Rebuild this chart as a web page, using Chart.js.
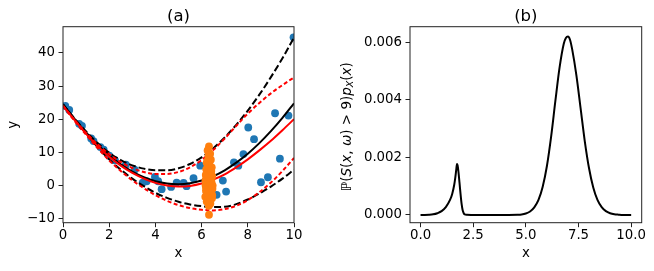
<!DOCTYPE html>
<html><head><meta charset="utf-8">
<script src="https://cdn.jsdelivr.net/npm/chart.js@4.4.1/dist/chart.umd.min.js"></script>
<style>
html,body{margin:0;padding:0;background:#fff;width:654px;height:271px;overflow:hidden}
#wrap{position:relative;width:654px;height:271px}
canvas{position:absolute;top:0}
#ca{left:0}
#cb{left:327px}
</style></head><body>
<div id="wrap"><canvas id="ca" width="327" height="271"></canvas><canvas id="cb" width="327" height="271"></canvas></div>
<script>
// ---------- Panel (a) data ----------
const curveX    = [0,0.5,1,1.5,2,2.5,3,3.5,4,4.5,5,5.5,6,6.5,7,7.5,8,8.5,9,9.5,10];
const trueMean  = [24.5,20.1,16.0,12.3,9.1,6.4,4.2,2.5,1.3,0.6,0.4,0.7,1.5,2.8,4.6,6.9,9.6,12.8,16.4,20.4,24.8];
const trueUpper = [24.5,20.2,16.3,12.8,9.9,7.7,6.1,5.1,4.6,4.6,5.2,6.5,8.5,11.2,14.5,18.3,22.6,27.4,32.7,38.4,44.6];
const trueLower = [24.5,19.9,15.7,11.6,7.9,4.8,2.1,-0.2,-2.2,-3.7,-4.9,-5.7,-6.2,-6.5,-6.4,-5.6,-4.2,-2.4,-0.3,2.1,4.8];
const fitMean   = [24.0,19.7,15.6,11.9,8.7,6.0,3.8,2.1,0.8,0.0,-0.3,-0.1,0.6,1.8,3.4,5.5,7.9,10.6,13.5,16.7,20.0];
const fitUpper  = [24.0,19.8,15.9,12.4,9.5,7.1,5.3,4.1,3.5,3.5,4.1,5.5,7.7,10.7,14.2,18.0,21.7,24.9,27.8,30.3,32.6];
const fitLower  = [24.0,19.5,15.3,11.3,7.6,4.4,1.6,-0.8,-2.9,-4.6,-5.9,-6.8,-7.3,-7.5,-7.1,-6.1,-4.4,-2.0,0.9,4.4,8.3];

const blueX = [0.10,0.27,0.70,0.82,1.22,1.32,1.62,1.76,2.00,2.25,2.72,3.10,3.45,3.62,3.98,4.12,4.27,4.68,4.92,5.22,5.35,5.65,5.94,6.65,6.92,7.06,7.40,7.59,7.81,8.02,8.27,8.57,8.87,9.18,9.39,9.76,9.98];
const blueY = [24.0,22.8,18.6,18.0,14.2,13.4,11.6,10.8,9.0,7.6,6.3,4.8,0.9,1.3,2.6,1.3,-1.1,-0.4,0.9,0.8,-0.2,2.2,6.0,-2.8,1.5,-1.8,7.0,6.0,9.5,17.5,14.0,1.0,2.5,21.8,8.1,21.1,44.7];

const orangeX = [6.32,6.26,6.37,6.30,6.40,6.22,6.34,6.44,6.20,6.31,6.41,6.18,6.46,6.27,6.36,6.21,6.43,6.30,6.17,6.38,6.25,6.47,6.19,6.33,6.42,6.23,6.35,6.16,6.45,6.29,6.22,6.38,6.31,6.32,6.48,6.17,6.40,6.34,6.24,6.46,6.33,6.19,6.28,6.42,6.21,6.37,6.26,6.44,6.30,6.35];
const orangeY = [11.8,10.6,9.6,8.6,7.8,6.9,6.2,5.5,4.9,4.3,3.8,3.2,2.8,2.3,1.9,1.4,1.0,0.6,0.2,-0.2,-0.6,-1.0,-1.4,-1.8,-2.2,-2.6,-3.0,-3.4,-3.8,-4.3,-4.8,-5.4,-6.1,-8.8,0.0,1.6,-1.2,2.6,3.5,-2.9,5.0,-0.4,-4.0,4.4,-2.0,0.8,7.4,-0.8,9.2,-5.0];

const xTicksA = [0,2,4,6,8,10];
const yTicksA = [-10,0,10,20,30,40];

// ---------- Panel (b) data ----------
const densX = [0,0.2,0.4,0.6,0.8,1.0,1.2,1.4,1.5,1.6,1.65,1.7,1.73,1.76,1.8,1.85,1.9,1.95,2.0,2.05,2.1,2.2,2.4,3,4,4.6,4.8,5.0,5.2,5.4,5.6,5.8,6.0,6.2,6.4,6.6,6.8,6.9,7.0,7.1,7.2,7.4,7.6,7.8,8.0,8.2,8.4,8.6,8.8,9.0,9.2,9.4,9.6,10];
const densY = [0,0,0.000005,0.00002,0.00006,0.00013,0.00027,0.00052,0.00072,0.00105,0.0013,0.0016,0.00177,0.00172,0.0015,0.00112,0.00072,0.00038,0.00016,0.00006,0.00002,0.000005,0,0,0,0.000005,0.000015,0.00005,0.00012,0.00026,0.00052,0.00098,0.0017,0.00272,0.00395,0.00512,0.00595,0.00615,0.0062,0.00608,0.00575,0.00485,0.0037,0.00255,0.00162,0.00095,0.00052,0.00027,0.00013,0.00006,0.000025,0.00001,0,0];

const xTicksB = [0,2.5,5,7.5,10];
const yTicksB = [0,0.002,0.004,0.006];

// ---------- helpers ----------
const FONT = 'DejaVu Sans';
Chart.defaults.font.family = FONT;
Chart.defaults.color = '#000';
const pts = (xs, ys) => xs.map((x, i) => ({x: x, y: ys[i]}));
const minus = v => (v < 0 ? '\u2212' + Math.abs(v) : String(v));

const framePlugin = {
  id: 'frame',
  afterDraw(chart) {
    const {ctx, chartArea: a} = chart;
    ctx.save();
    ctx.strokeStyle = '#222';
    ctx.lineWidth = 1;
    ctx.strokeRect(a.left, a.top, a.right - a.left, a.bottom - a.top);
    ctx.restore();
  }
};

function axisCommon(extra) {
  return Object.assign({
    type: 'linear',
    grid: {drawOnChartArea: false, drawTicks: true, tickLength: 4.5, color: '#222', lineWidth: 1},
    border: {display: false}
  }, extra);
}

function lineDs(xs, ys, color, dash, order) {
  return {
    data: pts(xs, ys), showLine: true, pointRadius: 0, borderColor: color,
    borderWidth: 2, borderDash: dash, fill: false, order: order,
    cubicInterpolationMode: 'monotone'
  };
}

// ---------- Chart (a) ----------
new Chart(document.getElementById('ca'), {
  type: 'scatter',
  data: {
    datasets: [
      {data: pts(orangeX, orangeY), backgroundColor: '#ff7f0e', pointRadius: 3.9, borderWidth: 0, order: 0},
      lineDs(curveX, fitMean, '#ff0000', [], 1),
      lineDs(curveX, fitUpper, '#ff0000', [4, 2.5], 1),
      lineDs(curveX, fitLower, '#ff0000', [4, 2.5], 1),
      lineDs(curveX, trueMean, '#000000', [], 2),
      lineDs(curveX, trueUpper, '#000000', [7, 3], 2),
      lineDs(curveX, trueLower, '#000000', [7, 3], 2),
      {data: pts(blueX, blueY), backgroundColor: '#1f77b4', pointRadius: 3.9, borderWidth: 0, order: 3}
    ]
  },
  options: {
    responsive: false, devicePixelRatio: 1, animation: false,
    layout: {padding: {left: 0, right: 33, top: 0, bottom: 0}},
    plugins: {
      legend: {display: false}, tooltip: {enabled: false},
      title: {display: true, text: '(a)', fullSize: false, color: '#000',
              font: {family: FONT, size: 16.5, weight: 'normal', lineHeight: 1.2},
              padding: {top: 6.8, bottom: 0.1}}
    },
    scales: {
      x: axisCommon({
        position: 'bottom', min: 0, max: 10,
        afterBuildTicks: s => { s.ticks = xTicksA.map(v => ({value: v})); },
        ticks: {font: {size: 13.3}, color: '#000', padding: 0, maxRotation: 0, callback: v => minus(v)},
        title: {display: true, text: 'x', font: {size: 13.3}, color: '#000', padding: {top: 0, bottom: 9}},
        afterFit: s => { s.height = 48.3; }
      }),
      y: axisCommon({
        position: 'left', min: -11.2, max: 47.9,
        afterBuildTicks: s => { s.ticks = yTicksA.map(v => ({value: v})); },
        ticks: {font: {size: 13.3}, color: '#000', padding: 3.5, callback: v => minus(v)},
        title: {display: true, text: 'y', font: {size: 13.3}, color: '#000', padding: {top: 5.5, bottom: 0}},
        afterFit: s => { s.width = 63; }
      })
    }
  },
  plugins: [framePlugin]
});

// ---------- Chart (b) ----------
const yLabelB = [
  {t: '\u2119', i: false}, {t: '(', i: false}, {t: 'S', i: true}, {t: '(', i: false},
  {t: 'x', i: true}, {t: ', ', i: false}, {t: '\u03c9', i: true}, {t: ') > 9)', i: false},
  {t: 'p', i: true}, {t: 'X', i: true, sub: true}, {t: '(', i: false}, {t: 'x', i: true}, {t: ')', i: false}
];
const yLabelPlugin = {
  id: 'ylabelB',
  afterDraw(chart) {
    const ctx = chart.ctx;
    const size = 13.5;
    const fontOf = seg => (seg.i ? 'italic ' : '') + (seg.sub ? size * 0.7 : size) + 'px "' + FONT + '"';
    let total = 0;
    yLabelB.forEach(seg => { ctx.font = fontOf(seg); total += ctx.measureText(seg.t).width; });
    const a = chart.chartArea;
    ctx.save();
    ctx.translate(19.3, (a.top + a.bottom) / 2 + 2);
    ctx.rotate(-Math.PI / 2);
    ctx.fillStyle = '#000';
    ctx.textBaseline = 'alphabetic';
    ctx.textAlign = 'left';
    let x = -total / 2;
    const base = 0.32 * size;
    yLabelB.forEach(seg => {
      ctx.font = fontOf(seg);
      ctx.fillText(seg.t, x, base + (seg.sub ? 2.8 : 0));
      x += ctx.measureText(seg.t).width;
    });
    ctx.restore();
  }
};

new Chart(document.getElementById('cb'), {
  type: 'scatter',
  data: {
    datasets: [ lineDs(densX, densY, '#000000', [], 0) ]
  },
  options: {
    responsive: false, devicePixelRatio: 1, animation: false,
    layout: {padding: {left: 0, right: 12.3, top: 0, bottom: 0}},
    plugins: {
      legend: {display: false}, tooltip: {enabled: false},
      title: {display: true, text: '(b)', fullSize: false, color: '#000',
              font: {family: FONT, size: 16.5, weight: 'normal', lineHeight: 1.2},
              padding: {top: 6.8, bottom: 0.1}}
    },
    scales: {
      x: axisCommon({
        position: 'bottom', min: -0.5, max: 10.5,
        afterBuildTicks: s => { s.ticks = xTicksB.map(v => ({value: v})); },
        ticks: {font: {size: 13.3}, color: '#000', padding: 0, maxRotation: 0, callback: v => v.toFixed(1)},
        title: {display: true, text: 'x', font: {size: 13.3}, color: '#000', padding: {top: 0, bottom: 9}},
        afterFit: s => { s.height = 48.3; }
      }),
      y: axisCommon({
        position: 'left', min: -0.00027, max: 0.00654,
        afterBuildTicks: s => { s.ticks = yTicksB.map(v => ({value: v})); },
        ticks: {font: {size: 13.3}, color: '#000', padding: 3.5, callback: v => v.toFixed(3)},
        afterFit: s => { s.width = 83; }
      })
    }
  },
  plugins: [framePlugin, yLabelPlugin]
});
</script>
</body></html>
